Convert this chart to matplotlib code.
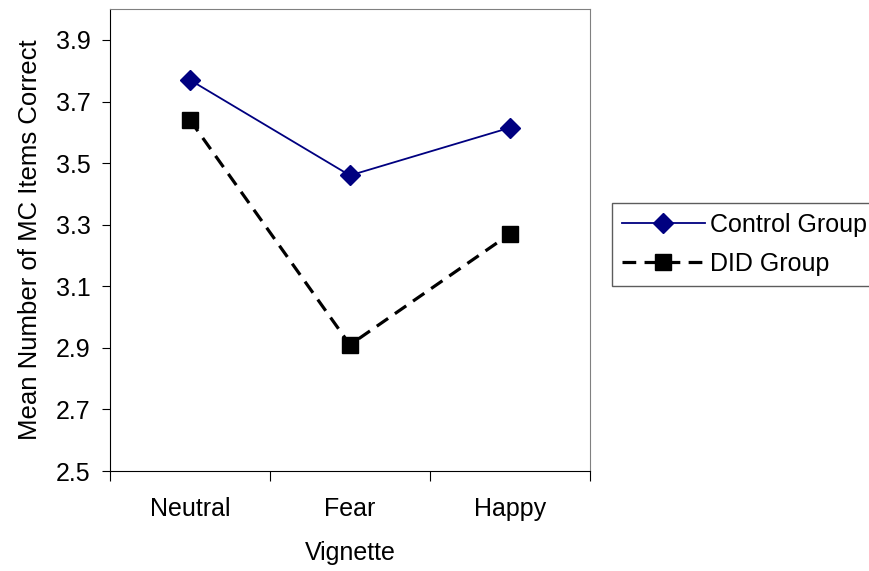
import matplotlib.pyplot as plt

plt.rcParams['font.family'] = ['Liberation Sans', 'DejaVu Sans']

vignettes = ['Neutral', 'Fear', 'Happy']
control = [3.77, 3.46, 3.615]
did = [3.64, 2.91, 3.27]

fig = plt.figure(figsize=(8.7, 5.71), dpi=100)
ax = fig.add_axes([0.1264, 0.175, 0.5517, 0.809])

x = [0.5, 1.5, 2.5]
ax.plot(x, control, color='#000080', lw=1.3, marker='D', markersize=10,
        label='Control Group', zorder=3)
ax.plot(x, did, color='black', lw=2.3, ls=(0, (4.3, 2.6)), marker='s',
        markersize=11, label='DID Group', zorder=2)

ax.set_xlim(0, 3)
ax.set_ylim(2.5, 4.0)
ax.set_yticks([2.5, 2.7, 2.9, 3.1, 3.3, 3.5, 3.7, 3.9])
ax.set_yticklabels(['2.5', '2.7', '2.9', '3.1', '3.3', '3.5', '3.7', '3.9'])
ax.set_xticks([0, 1, 2, 3])
ax.set_xticklabels([])
ax.set_xticks(x, minor=True)
ax.set_xticklabels(vignettes, minor=True)
ax.tick_params(axis='x', which='minor', length=0, pad=19, labelsize=18)
ax.tick_params(axis='x', which='major', length=7, direction='out')
ax.tick_params(axis='y', length=6, direction='out', labelsize=18, pad=8)

for s in ['top', 'right']:
    ax.spines[s].set_color('#808080')
ax.spines['left'].set_color('black')
ax.spines['bottom'].set_color('black')

ax.set_xlabel('Vignette', fontsize=18, labelpad=14)
ax.set_ylabel('Mean Number of MC Items Correct', fontsize=18.5, labelpad=10)

leg = ax.legend(loc='center left', bbox_to_anchor=(1.046, 0.49), fontsize=18,
                frameon=True, fancybox=False, edgecolor='#333333',
                handlelength=3.3, handletextpad=0.2, borderpad=0.4,
                labelspacing=0.6, borderaxespad=0)
leg.get_frame().set_linewidth(1.0)

fig.savefig('out.png', dpi=100)
